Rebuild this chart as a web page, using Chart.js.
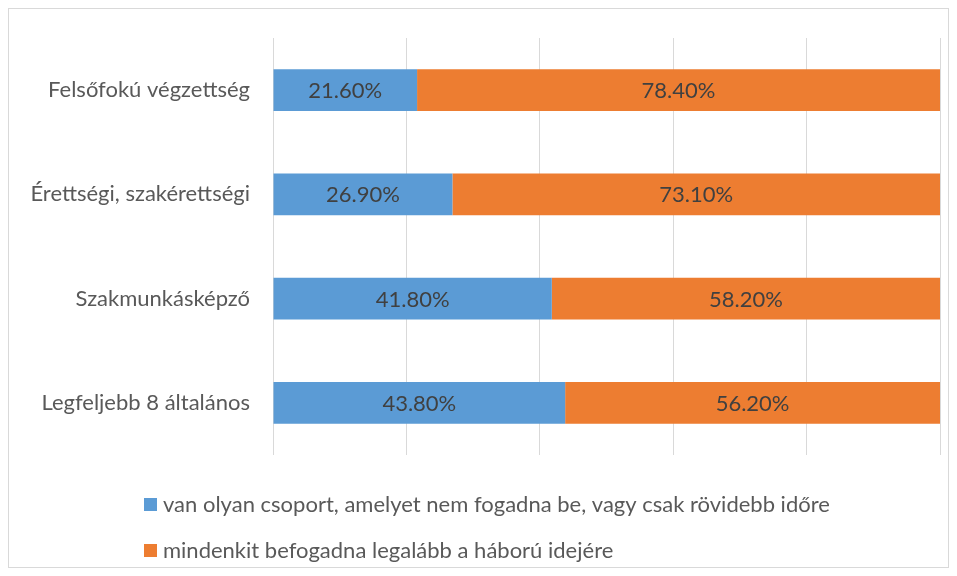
<!DOCTYPE html>
<html><head><meta charset="utf-8">
<script src="https://cdn.jsdelivr.net/npm/chart.js@4"></script>
<style>html,body{margin:0;padding:0;background:#fff}#w{width:957px;height:576px;position:relative}</style>
</head><body><div id="w"><canvas id="c" width="957" height="576"></canvas></div>
<script>
const categories = ["Felsőfokú végzettség", "Érettségi, szakérettségi", "Szakmunkásképző", "Legfeljebb 8 általános"];
const seriesNames = ["van olyan csoport, amelyet nem fogadna be, vagy csak rövidebb időre", "mindenkit befogadna legalább a háború idejére"];
const seriesA = [21.6, 26.9, 41.8, 43.8];
const seriesB = [78.4, 73.1, 58.2, 56.2];
const colors = ["#5B9BD5", "#ED7D31"];
const FONT = "Lato, 'Open Sans', sans-serif";

const labelsPlugin = {
  id: 'lbl',
  afterDatasetsDraw(chart) {
    const ctx = chart.ctx;
    ctx.save();
    ctx.font = "22px " + FONT;
    ctx.fillStyle = "#404040";
    ctx.textAlign = "center";
    ctx.textBaseline = "middle";
    chart.data.datasets.forEach((ds, i) => {
      chart.getDatasetMeta(i).data.forEach((bar, j) => {
        const x = (bar.x + bar.base) / 2;
        ctx.fillText(ds.data[j].toFixed(2) + "%", x, bar.y + 1);
      });
    });
    ctx.restore();
  },
  afterDraw(chart) {
    const ctx = chart.ctx;
    ctx.save();
    ctx.strokeStyle = "#d9d9d9";
    ctx.lineWidth = 1;
    ctx.strokeRect(8.5, 8.5, 940, 559);
    ctx.font = "22px " + FONT;
    ctx.textBaseline = "middle";
    ctx.textAlign = "left";
    chart.data.datasets.forEach((ds, i) => {
      const y = 505 + i * 46;
      ctx.fillStyle = ds.backgroundColor;
      ctx.fillRect(144, y - 7, 13, 13);
      ctx.fillStyle = "#595959";
      ctx.fillText(ds.label, 163, y);
    });
    ctx.restore();
  }
};

new Chart(document.getElementById('c'), {
  type: 'bar',
  data: {
    labels: categories,
    datasets: [
      { label: seriesNames[0], data: seriesA, backgroundColor: colors[0], barPercentage: 0.4, categoryPercentage: 1 },
      { label: seriesNames[1], data: seriesB, backgroundColor: colors[1], barPercentage: 0.4, categoryPercentage: 1 }
    ]
  },
  options: {
    indexAxis: 'y',
    responsive: false,
    animation: false,
    devicePixelRatio: 1,
    layout: { padding: { top: 38, right: 17, bottom: 121, left: 0 } },
    plugins: { legend: { display: false }, tooltip: { enabled: false } },
    scales: {
      x: {
        stacked: true, min: 0, max: 100,
        ticks: { display: false, stepSize: 20 },
        grid: { color: "#d9d9d9", drawTicks: false, lineWidth: 1 },
        border: { display: false },
        afterFit(s) { s.height = 0; }
      },
      y: {
        stacked: true,
        ticks: { color: "#595959", font: { family: FONT, size: 22 }, padding: 23 },
        grid: { display: false, drawTicks: false },
        border: { display: false },
        afterFit(s) { s.width = 273; }
      }
    }
  },
  plugins: [labelsPlugin]
});
</script></body></html>
